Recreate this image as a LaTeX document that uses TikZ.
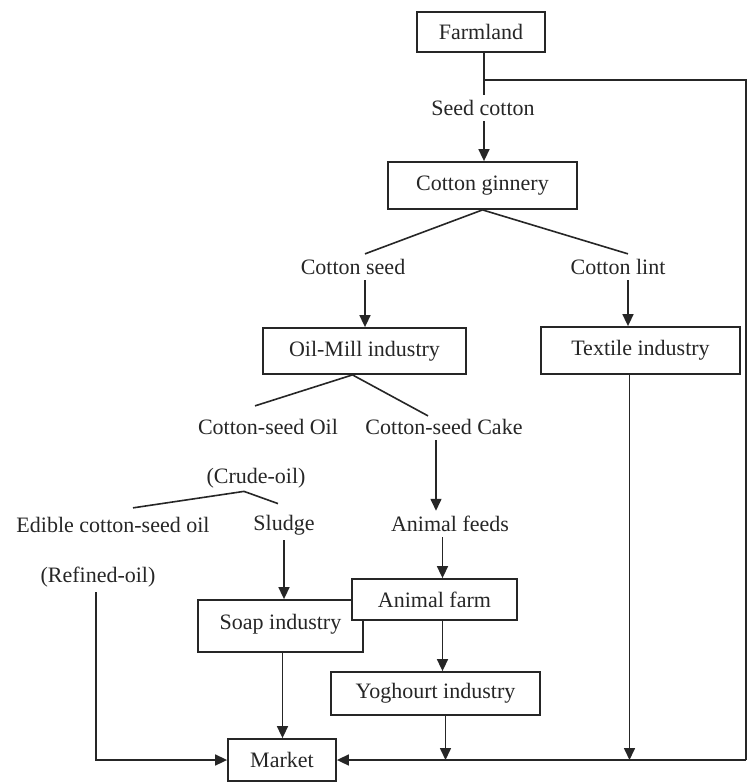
\documentclass[tikz,border=0pt]{standalone}
\usepackage{fontspec}
\setmainfont{Liberation Serif}
\usetikzlibrary{arrows.meta,calc}
\definecolor{ink}{rgb}{0.15,0.15,0.15}
\tikzset{
  box/.style={draw=ink, line width=0.9pt, fill=white, inner sep=0pt, text=ink},
  lbl/.style={inner sep=2.5pt, text=ink},
  conn/.style={draw=ink, line width=0.8pt},
  arr/.style={conn, -{Triangle[length=6pt,width=5.5pt]}}
}
\begin{document}
\begin{tikzpicture}[x=0.5pt,y=-0.5pt,font=\fontsize{11}{13}\selectfont]
\useasboundingbox (0,0) rectangle (748,783);
\fill[white] (0,0) rectangle (748,783);
% boxes
\node[box, minimum width=64pt, minimum height=20pt] (farm) at (481,32) {Farmland};
\node[box, minimum width=94.5pt, minimum height=23.5pt] (gin) at (482.5,185.5) {Cotton ginnery};
\node[box, minimum width=101.5pt, minimum height=23pt] (oil) at (364.5,351) {Oil-Mill industry};
\node[box, minimum width=99.5pt, minimum height=23.5pt] (tex) at (640.5,350.5) {Textile industry};
\node[box, minimum width=82.5pt, minimum height=26pt, text depth=4pt] (soap) at (280.5,626) {Soap industry};
\node[box, minimum width=82.5pt, minimum height=20.5pt] (afarm) at (434.5,599.5) {Animal farm};
\node[box, minimum width=104.5pt, minimum height=21.5pt] (yog) at (435.5,693.5) {Yoghourt industry};
\node[box, minimum width=54pt, minimum height=21pt] (market) at (282,760) {Market};
% labels
\node[lbl] (seedcotton) at (483,108) {Seed cotton};
\node[lbl] (cottonseed) at (353,267) {Cotton seed};
\node[lbl] (cottonlint) at (618,267) {Cotton lint};
\node[lbl] (csoil) at (268,427) {Cotton-seed Oil};
\node[lbl] (cscake) at (444,427) {Cotton-seed Cake};
\node[lbl] (crude) at (256,478) {(Crude-oil)};
\node[lbl] (edible) at (113,525) {Edible cotton-seed oil};
\node[lbl] (sludge) at (284,525) {Sludge};
\node[lbl] (refined) at (98,577) {(Refined-oil)};
\node[lbl] (feeds) at (450,524) {Animal feeds};
% top
\coordinate (fx) at ([xshift=1.5pt]farm.south);
\coordinate (jn) at (fx |- 0,80);
\coordinate (ne) at (746,80);
\coordinate (se) at (market.east -| ne);
\draw[conn] (fx) -- (fx |- seedcotton.north);
\draw[arr] (fx |- seedcotton.south) -- (fx |- gin.north);
\draw[conn] (jn) -- (ne) -- (se);
\draw[arr] (se) -- (market.east);
% ginnery split
\draw[conn] (gin.south) -- ([xshift=6pt]cottonseed.north);
\draw[conn] (gin.south) -- ([xshift=5pt]cottonlint.north);
\draw[arr] ([xshift=6pt]cottonseed.south) -- ([xshift=6pt]cottonseed.south |- oil.north);
\draw[arr] ([xshift=5pt]cottonlint.south) -- ([xshift=5pt]cottonlint.south |- tex.north);
% oil mill split
\coordinate (oap) at ([xshift=-6pt]oil.south);
\draw[conn] (oap) -- ([xshift=-6.5pt,yshift=4pt]csoil.north);
\draw[conn] (oap) -- ([xshift=-8pt,yshift=-1pt]cscake.north);
\coordinate (ck) at ([xshift=-4pt]cscake.south);
\draw[arr] (ck) -- (ck |- feeds.north);
\coordinate (fa) at ([xshift=4pt]afarm.north);
\draw[arr] (fa |- feeds.south) -- (fa);
% crude oil split
\coordinate (cap) at ([xshift=-6pt,yshift=1pt]crude.south);
\draw[conn] (cap) -- ([xshift=10pt,yshift=2pt]edible.north);
\draw[conn] (cap) -- ([xshift=-3pt,yshift=3pt]sludge.north);
\draw[arr] (sludge.south) -- (sludge.south |- soap.north);
\draw[arr] ([xshift=-1pt]refined.south) |- (market.west);
% redraw animal farm on top of soap box
\node[box, minimum width=82.5pt, minimum height=20.5pt] at (afarm) {Animal farm};
\coordinate (af) at ([xshift=4pt]afarm.south);
\draw[arr] (af) -- (af |- yog.north);
% to market
\draw[arr] ([xshift=1pt]soap.south) -- ([xshift=1pt]soap.south |- market.north);
\coordinate (yb) at ([xshift=5pt]yog.south);
\draw[arr] (yb) -- (yb |- market.east);
\coordinate (tb) at ([xshift=-5.5pt]tex.south);
\draw[arr] (tb) -- (tb |- market.east);
\end{tikzpicture}
\end{document}
